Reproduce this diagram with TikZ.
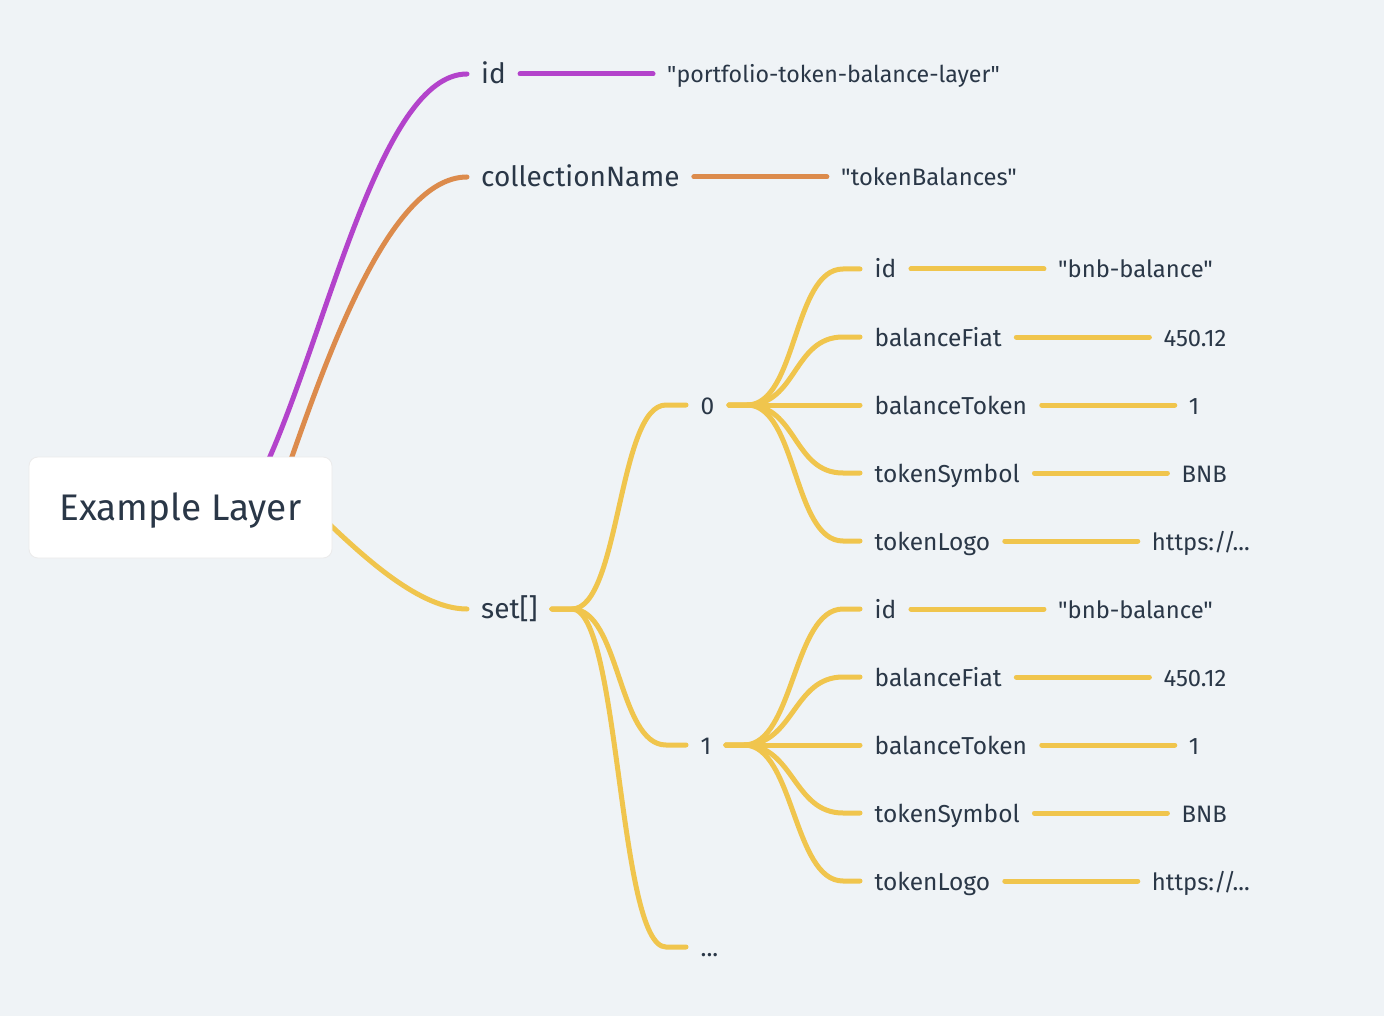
\documentclass[tikz,border=0pt]{standalone}
\usepackage{fontspec}
\setmainfont{Fira Sans}[Ligatures=TeXOff]
\usetikzlibrary{calc,positioning,backgrounds}
\definecolor{bg}{HTML}{EFF3F6}
\definecolor{txt}{HTML}{2A3747}
\definecolor{pur}{HTML}{B343CB}
\definecolor{ora}{HTML}{DC8B4C}
\definecolor{yel}{HTML}{F0C54D}
\begin{document}
\begin{tikzpicture}[x=1pt,y=-1pt,
  lone/.style={anchor=west,inner xsep=14pt,inner ysep=0pt,text height=19pt,text depth=0pt,text=txt,font=\fontsize{28}{31}\selectfont},
  ltwo/.style={anchor=west,inner xsep=14.5pt,inner ysep=0pt,text height=18pt,text depth=0pt,text=txt,font=\fontsize{24.5}{27}\selectfont},
  valnode/.style={ltwo,inner xsep=14pt,font=\fontsize{23.8}{27}\selectfont},
  rootbox/.style={fill=white,draw=black!8,line width=0.8pt,rounded corners=9pt,minimum width=303pt,minimum height=101pt,text height=26pt,text depth=0pt,text=txt,font=\fontsize{37}{41}\selectfont},
  edge/.style={line width=5pt,line cap=round},
  fan/.style={edge,yel}
]
\useasboundingbox (0,0) rectangle (1384,1016);

\node[rootbox] (root) at (180.5,507.5) {Example Layer};

% level 1
\node[lone] (id) at (467,74) {id};
\node[lone] (cn) at (467,177) {collectionName};
\node[lone] (set) at (467,609) {set[]};
\node[valnode,font=\fontsize{23.2}{27}\selectfont,right=133pt of id] (idv) {"portfolio-token-balance-layer"};
\node[valnode,right=133pt of cn] (cnv) {"tokenBalances"};

% level 2
\node[ltwo] (n0) at (686,405) {0};
\node[ltwo] (n1) at (686,745) {1};
\node[ltwo] (ndots) at (686,947) {...};

\foreach \g/\dy in {a/0,b/340} {
  \node[ltwo] (\g-id) at (860,269+\dy) {id};
  \node[ltwo] (\g-bf) at (860,337+\dy) {balanceFiat};
  \node[ltwo] (\g-bt) at (860,405+\dy) {balanceToken};
  \node[ltwo] (\g-ts) at (860,473+\dy) {tokenSymbol};
  \node[ltwo] (\g-tl) at (860,541+\dy) {tokenLogo};
  \node[valnode,right=133pt of \g-id] (\g-idv) {"bnb-balance"};
  \node[valnode,right=133pt of \g-bf] (\g-bfv) {450.12};
  \node[valnode,right=133pt of \g-bt] (\g-btv) {1};
  \node[valnode,right=133pt of \g-ts] (\g-tsv) {BNB};
  \node[valnode,right=133pt of \g-tl] (\g-tlv) {https://...};
}

\begin{scope}[on background layer]
  \fill[bg] (0,0) rectangle (1384,1016);
  % root to level 1
  \draw[edge,pur] (root.center) -- (264,470) .. controls (327,333.5) and (380,74) .. (id.west);
  \draw[edge,ora] (root.center) -- (288,468) .. controls (327.6,355) and (390,177) .. (cn.west);
  \draw[edge,yel] (root.center) -- (325,520) .. controls (365,558) and (420,609) .. (set.west);
  % level 1 values
  \draw[edge,pur] (id.east) -- (idv.west);
  \draw[edge,ora] (cn.east) -- (cnv.west);
  % set to items
  \foreach \t in {n0,n1,ndots}
    \draw[fan] (set.east) -- ++(20,0) .. controls +(48,0) and +(-48,0) .. ($(\t.west)+(-20,0)$) -- (\t.west);
  % items to fields
  \foreach \g/\n in {a/n0,b/n1}
    \foreach \c in {id,bf,bt,ts,tl} {
      \draw[fan] (\n.east) -- ++(18,0) .. controls +(50,0) and +(-50,0) .. ($(\g-\c.west)+(-17,0)$) -- (\g-\c.west);
      \draw[fan] (\g-\c.east) -- (\g-\c v.west);
    }
\end{scope}
\end{tikzpicture}
\end{document}
